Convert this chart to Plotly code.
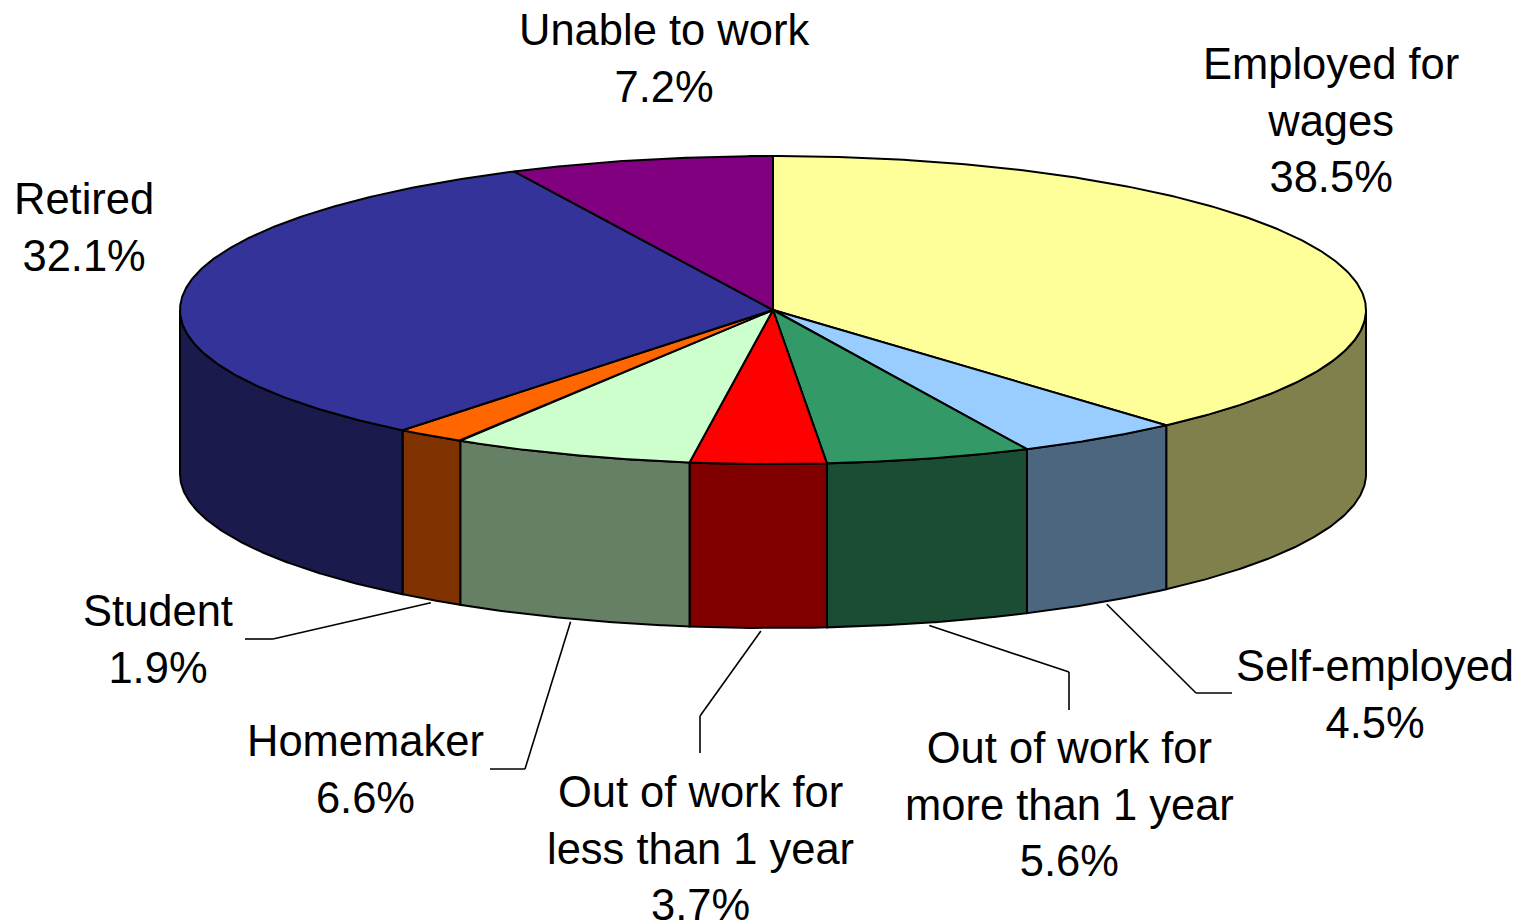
import numpy as np
import plotly.graph_objects as go

categories = ["Employed for<br>wages", "Self-employed", "Out of work for<br>more than 1 year",
              "Out of work for<br>less than 1 year", "Homemaker", "Student", "Retired", "Unable to work"]
values = [38.5, 4.5, 5.6, 3.7, 6.6, 1.9, 32.1, 7.2]
top_colors = ["#FFFF99", "#99CCFF", "#339966", "#FF0000", "#CCFFCC", "#FF6600", "#333399", "#800080"]
side_colors = ["#80804D", "#4D6680", "#1A4D33", "#800000", "#668066", "#803300", "#1A1A4D", "#400040"]
label_pos = [(1331, 120), (1375, 694), (1069, 804), (700, 848), (365, 769), (158, 639), (84, 227), (664, 58)]
# leader elbows after the rim point; empty = no leader
elbows = [[], [(1196, 693), (1232, 693)], [(1069, 672), (1069, 710)], [(700, 716), (700, 753)],
          [(525, 769), (490, 769)], [(273, 639), (245, 639)], [], []]
# where along its slice each leader leaves the rim
leader_frac = [0.5, 0.45, 0.5, 0.48, 0.5, 0.5, 0.5, 0.5]

CX, CY, RX, RY, DEPTH = 773, 310, 593, 154, 164
FONT = dict(family="Liberation Sans, Arial, sans-serif", size=43.5, color="black")


def px(t):
    return CX + RX * np.sin(t)


def py(t, drop=0):
    return CY - RY * np.cos(t) + drop


fracs = np.array(values) / sum(values)
edges = np.concatenate([[0], np.cumsum(fracs)]) * 2 * np.pi

fig = go.Figure()


def poly(x, y, color):
    fig.add_trace(go.Scatter(x=list(x), y=list(y), mode="lines", fill="toself", fillcolor=color,
                             line=dict(color="black", width=2), hoverinfo="skip", showlegend=False))


# Side walls (only the front half is visible)
for i in range(len(values)):
    a, b = max(edges[i], np.pi / 2), min(edges[i + 1], 3 * np.pi / 2)
    if b <= a:
        continue
    t = np.linspace(a, b, 120)
    poly(np.r_[px(t), px(t[::-1]), px(t[0])],
         np.r_[py(t), py(t[::-1], DEPTH), py(t[0])], side_colors[i])

# Top face
for i in range(len(values)):
    t = np.linspace(edges[i], edges[i + 1], 240)
    poly(np.r_[CX, px(t), CX], np.r_[CY, py(t), CY], top_colors[i])

# Leader lines start just below the bottom rim
shapes = []
for i, elbow in enumerate(elbows):
    if not elbow:
        continue
    m = edges[i] + leader_frac[i] * (edges[i + 1] - edges[i])
    pts = [(px(m), py(m, DEPTH + 3))] + elbow
    for (x0, y0), (x1, y1) in zip(pts, pts[1:]):
        shapes.append(dict(type="line", x0=x0, y0=y0, x1=x1, y1=y1, xref="x", yref="y",
                           line=dict(color="black", width=1.6)))

annotations = [dict(x=x, y=y, xref="x", yref="y", text=f"{c}<br>{v:.1f}%", showarrow=False,
                    align="center", xanchor="center", yanchor="middle", font=FONT)
               for c, v, (x, y) in zip(categories, values, label_pos)]

fig.update_layout(
    width=1521, height=923, margin=dict(l=0, r=0, t=0, b=0),
    paper_bgcolor="white", plot_bgcolor="white", showlegend=False,
    xaxis=dict(range=[0, 1521], visible=False, fixedrange=True),
    yaxis=dict(range=[923, 0], visible=False, fixedrange=True),
    shapes=shapes, annotations=annotations,
)
fig.write_html("out.html", config=dict(displayModeBar=False),
               post_script="document.body.style.margin='0';document.documentElement.style.overflow='hidden';document.body.style.overflow='hidden';")
